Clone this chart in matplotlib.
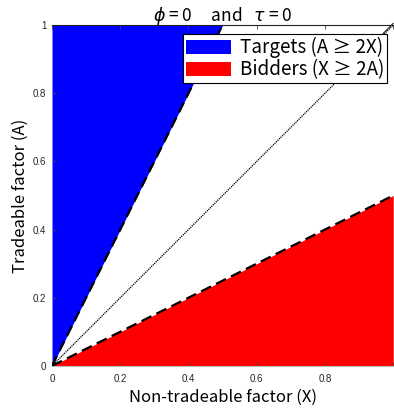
import matplotlib
matplotlib.use('Agg')
import matplotlib.pyplot as plt
import numpy as np

# region boundaries
a_vals = [0.0, 1.0]          # tradeable factor A along the targets edge
target_x = [0.0, 0.5]        # X where A = 2X
x_vals = [0.0, 1.0]          # non-tradeable factor X along the bidders edge
bidder_a = [0.0, 0.5]        # A where X = 2A
diag = [0.0, 1.0]            # A = X line

x_ticks = [0, 0.2, 0.4, 0.6, 0.8, 1]
y_ticks = [0, 0.2, 0.4, 0.6, 0.8, 1]
x_ticklabels = ['0', '0.2', '0.4', '0.6', '0.8', '']
y_ticklabels = ['0', '0.2', '0.4', '0.6', '0.8', '1']

jp = ['Noto Sans CJK JP', 'DejaVu Sans']

fig = plt.figure(figsize=(3.94, 4.12), dpi=100, facecolor='white')
ax = fig.add_axes([0.132, 0.112, 0.866, 0.827])

ax.fill_betweenx(a_vals, 0, target_x, color='#0000ff', lw=0, label='Targets (A ≥ 2X)', zorder=1)
ax.fill_between(x_vals, 0, bidder_a, color='#ff0000', lw=0, label='Bidders (X ≥ 2A)', zorder=1)

ax.plot(target_x, a_vals, color='black', ls=(0, (5, 2.5)), lw=1.6, zorder=3)
ax.plot(x_vals, bidder_a, color='black', ls=(0, (5, 2.5)), lw=1.6, zorder=3)
ax.plot(diag, diag, color='black', ls=(0, (1, 0.7)), lw=0.9, zorder=3)

ax.set_xlim(0, 1)
ax.set_ylim(0, 1)
ax.set_xticks(x_ticks)
ax.set_yticks(y_ticks)
ax.set_xticklabels(x_ticklabels, family='Liberation Sans', fontsize=7, color='#262626')
ax.set_yticklabels(y_ticklabels, family='Liberation Sans', fontsize=7, color='#262626')
ax.tick_params(direction='in', length=3, width=0.6, top=True, right=False, color='#444444')
ax.tick_params(axis='x', pad=6)
ax.tick_params(axis='y', pad=4)

for side in ['left', 'right']:
    ax.spines[side].set_visible(False)
ax.spines['bottom'].set_color('#bbbbbb')
ax.spines['bottom'].set_linewidth(0.8)
ax.spines['top'].set_color('#222222')
ax.spines['top'].set_linewidth(0.8)

# slanted back edge at the top right corner
ax.plot([0.97, 1.0], [0.975, 1.005], color='#222222', lw=0.8, clip_on=False, zorder=4)

ax.set_xlabel('Non-tradeable factor (X)', family=jp, fontsize=12, labelpad=3)
ax.set_ylabel('Tradeable factor (A)', family=jp, fontsize=12, labelpad=3)
ax.set_title(r'$\phi$ = 0     and   $\tau$ = 0', family=jp, fontsize=12.5, pad=3)

leg = ax.legend(loc='upper right', bbox_to_anchor=(0.982, 0.973), prop={'family': jp, 'size': 13.5},
                fancybox=False, framealpha=1, edgecolor='black', borderpad=0.15,
                handlelength=2.4, handleheight=0.8, handletextpad=0.5, labelspacing=0.05,
                borderaxespad=0)
leg.get_frame().set_linewidth(0.8)
leg.set_zorder(5)

fig.savefig('out.png', dpi=100, facecolor='white')
